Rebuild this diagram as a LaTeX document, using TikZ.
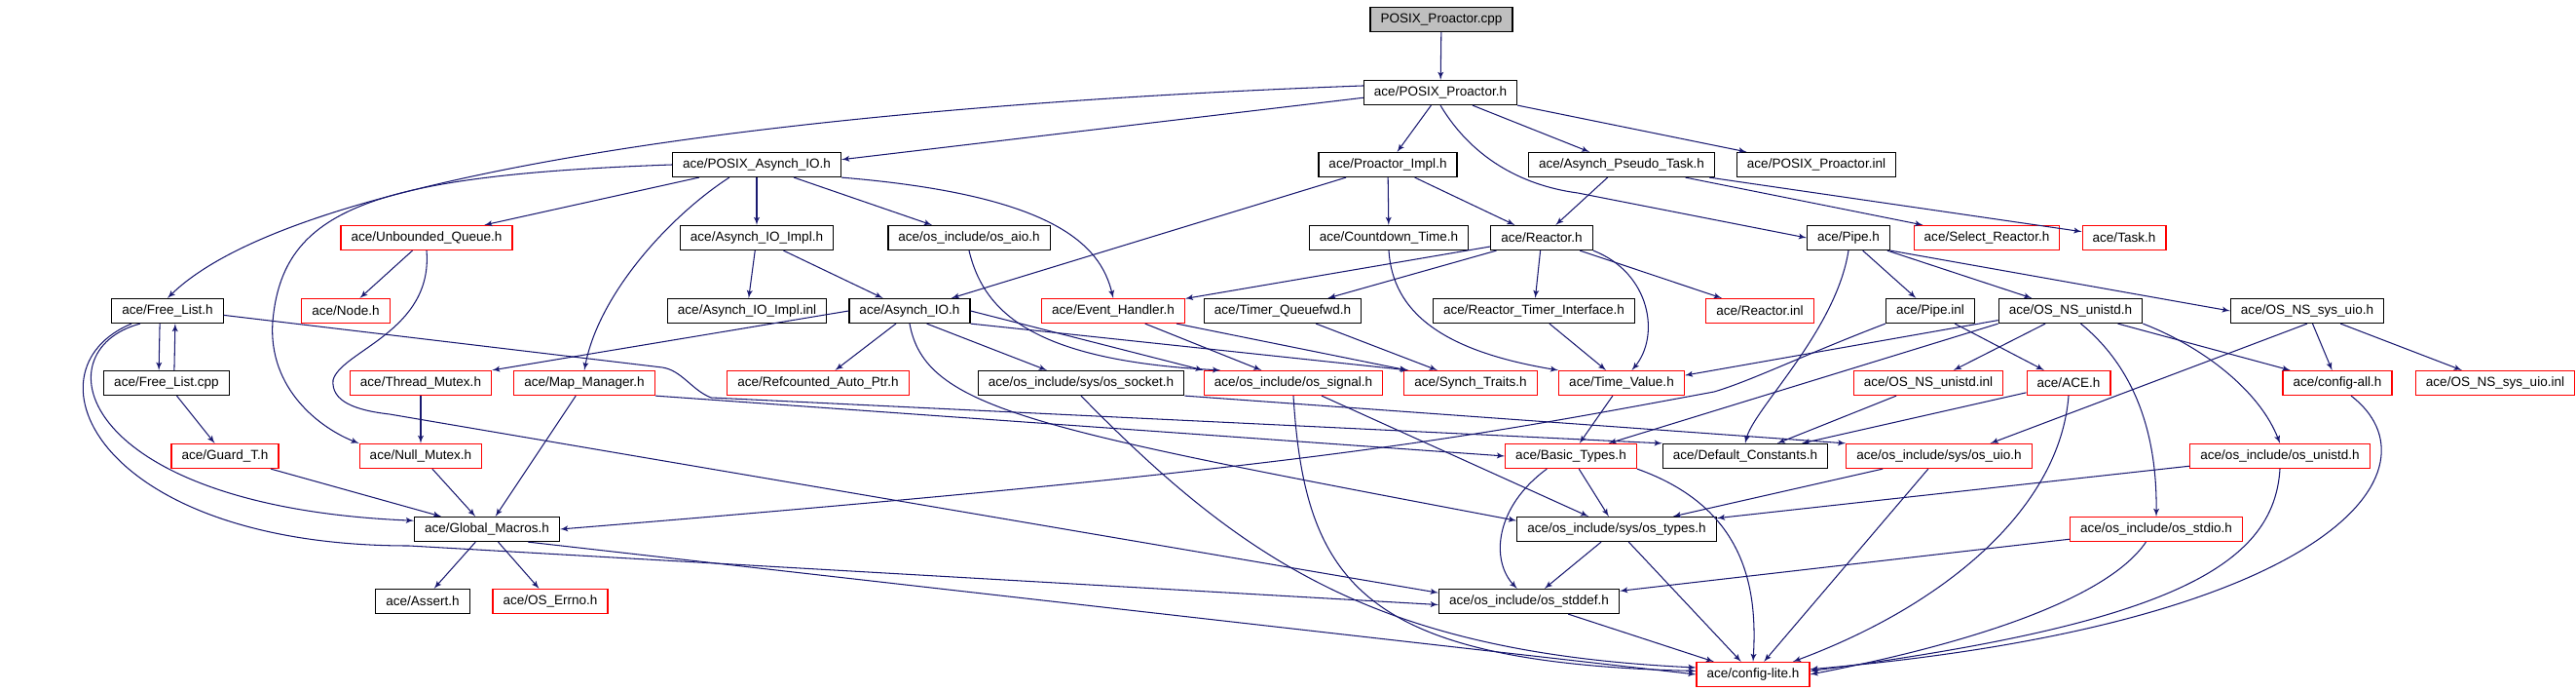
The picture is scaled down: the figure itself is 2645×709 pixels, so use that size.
\documentclass[tikz,border=0pt]{standalone}
\usepackage{fontspec}
\setmainfont{Liberation Sans}
\usepackage{tikz}
\usetikzlibrary{arrows}
\definecolor{edgecol}{HTML}{191970}
\definecolor{rootfill}{HTML}{BFBFBF}

\begin{document}
\begin{tikzpicture}[x=0.02cm,y=-0.02cm,->,>=latex',semithick,color=edgecol,
    incl/.style={rectangle,draw=black,line width=0.7pt,fill=white,text=black,
                 minimum height=0.5cm,inner xsep=6pt,inner ysep=0pt,
                 font=\fontsize{7.7}{9}\selectfont},
    incltrunc/.style={incl,draw=red},
    srcfile/.style={incl,fill=rootfill}]
		\useasboundingbox (0,0) rectangle (2645,709);

		\node[srcfile]   (cpp)      at (1480,20)  {POSIX\_Proactor.cpp};
		\node[incl]      (pph)      at (1479,95)  {ace/POSIX\_Proactor.h};
		\node[incl]      (pasio)    at (777,169)  {ace/POSIX\_Asynch\_IO.h};
		\node[incl]      (pimpl)    at (1425,169) {ace/Proactor\_Impl.h};
		\node[incl]      (apt)      at (1665,169) {ace/Asynch\_Pseudo\_Task.h};
		\node[incl]      (ppinl)    at (1865,169) {ace/POSIX\_Proactor.inl};
		\node[incltrunc] (uq)       at (438,244)  {ace/Unbounded\_Queue.h};
		\node[incl]      (aioimpl)  at (777,244)  {ace/Asynch\_IO\_Impl.h};
		\node[incl]      (osaio)    at (995,244)  {ace/os\_include/os\_aio.h};
		\node[incl]      (cdt)      at (1426,244) {ace/Countdown\_Time.h};
		\node[incl]      (reactor)  at (1583,244) {ace/Reactor.h};
		\node[incl]      (pipeh)    at (1898,244) {ace/Pipe.h};
		\node[incltrunc] (selr)     at (2040,244) {ace/Select\_Reactor.h};
		\node[incltrunc] (task)     at (2181,244) {ace/Task.h};
		\node[incl]      (flh)      at (172,319)  {ace/Free\_List.h};
		\node[incltrunc] (nodeh)    at (355,319)  {ace/Node.h};
		\node[incl]      (aioinl)   at (767,319)  {ace/Asynch\_IO\_Impl.inl};
		\node[incl]      (asio)     at (934,319)  {ace/Asynch\_IO.h};
		\node[incltrunc] (evh)      at (1143,319) {ace/Event\_Handler.h};
		\node[incl]      (tqf)      at (1317,319) {ace/Timer\_Queuefwd.h};
		\node[incl]      (rti)      at (1575,319) {ace/Reactor\_Timer\_Interface.h};
		\node[incltrunc] (rinl)     at (1807,319) {ace/Reactor.inl};
		\node[incl]      (pipeinl)  at (1982,319) {ace/Pipe.inl};
		\node[incl]      (nsu)      at (2126,319) {ace/OS\_NS\_unistd.h};
		\node[incl]      (nsuio)    at (2369,319) {ace/OS\_NS\_sys\_uio.h};
		\node[incl]      (flcpp)    at (171,393)  {ace/Free\_List.cpp};
		\node[incltrunc] (thm)      at (432,393)  {ace/Thread\_Mutex.h};
		\node[incltrunc] (mapm)     at (600,393)  {ace/Map\_Manager.h};
		\node[incltrunc] (rap)      at (840,393)  {ace/Refcounted\_Auto\_Ptr.h};
		\node[incl]      (ossock)   at (1110,393) {ace/os\_include/sys/os\_socket.h};
		\node[incltrunc] (ossig)    at (1328,393) {ace/os\_include/os\_signal.h};
		\node[incltrunc] (synt)     at (1510,393) {ace/Synch\_Traits.h};
		\node[incltrunc] (tv)       at (1665,393) {ace/Time\_Value.h};
		\node[incltrunc] (nsuinl)   at (1980,393) {ace/OS\_NS\_unistd.inl};
		\node[incltrunc] (ace)      at (2124,393) {ace/ACE.h};
		\node[incltrunc] (cfgall)   at (2400,393) {ace/config-all.h};
		\node[incltrunc] (nsuioinl) at (2562,393) {ace/OS\_NS\_sys\_uio.inl};
		\node[incltrunc] (guard)    at (231,468)  {ace/Guard\_T.h};
		\node[incltrunc] (nullm)    at (432,468)  {ace/Null\_Mutex.h};
		\node[incltrunc] (bt)       at (1613,468) {ace/Basic\_Types.h};
		\node[incl]      (defc)     at (1792,468) {ace/Default\_Constants.h};
		\node[incltrunc] (osuio)    at (1991,468) {ace/os\_include/sys/os\_uio.h};
		\node[incltrunc] (osunistd) at (2341,468) {ace/os\_include/os\_unistd.h};
		\node[incl]      (gm)       at (500,543)  {ace/Global\_Macros.h};
		\node[incl]      (ostypes)  at (1660,543) {ace/os\_include/sys/os\_types.h};
		\node[incltrunc] (osstdio)  at (2214,543) {ace/os\_include/os\_stdio.h};
		\node[incl]      (assert)   at (434,617)  {ace/Assert.h};
		\node[incltrunc] (oserrno)  at (565,617)  {ace/OS\_Errno.h};
		\node[incl]      (osstddef) at (1570,617) {ace/os\_include/os\_stddef.h};
		\node[incltrunc] (cfglite)  at (1800,692) {ace/config-lite.h};

		\path (cpp)   edge                 (pph)
		      (pph)   edge                 (pimpl)
		              edge                 (apt)
		      (pph.south east)       edge  ([xshift=6pt]ppinl.north west)
		      ([yshift=-3pt]pph.west) edge ([yshift=3pt]pasio.east);
		\draw ([yshift=4pt]pph.west) .. controls (800,110) and (300,180) .. (flh.north);
		\draw (pph.south) .. controls (1510,160) and (1560,190) .. (1620,198) -- (pipeh.west);

		\path (pasio) edge                 (uq)
		              edge                 (aioimpl)
		              edge                 (osaio)
		      (pimpl) edge                 (cdt)
		              edge                 (reactor)
		              edge                 (asio)
		      (apt)   edge                 (reactor)
		              edge                 (selr)
		              edge                 (task);
		\draw (pasio.west) .. controls (380,180) and (290,215) .. (280,330)
		      .. controls (275,400) and (330,440) .. (nullm.north west);
		\draw ([xshift=-16pt]pasio.south) .. controls (690,220) and (615,300) .. (mapm.north);
		\draw (pasio.south east) .. controls (1080,200) and (1130,250) .. (evh.north);

		\path (uq)      edge               (nodeh)
		      (aioimpl) edge               (aioinl)
		                edge               (asio)
		      (reactor) edge               (evh)
		                edge               (tqf)
		                edge               (rti)
		                edge               (rinl)
		      (pipeh)   edge               (pipeinl)
		                edge               (nsu)
		      (pipeh.south east) edge      (nsuio.west);
		\draw (uq.south) .. controls (445,340) and (350,360) .. (342,390)
		      .. controls (340,412) and (365,421) .. (400,425) -- ([yshift=5pt]osstddef.west);
		\draw (osaio.south) .. controls (1010,320) and (1060,370) .. ([xshift=10pt]ossig.north west);
		\draw (reactor.south east) .. controls (1695,280) and (1705,345) .. ([xshift=6pt]tv.north);
		\draw (cdt.south) .. controls (1430,320) and (1480,360) .. (tv.north west);
		\draw (pipeh.south) .. controls (1885,340) and (1800,420) .. (defc.north);

		\path ([xshift=-4.5pt]flh.south)  edge ([xshift=-4.5pt]flcpp.north)
		      ([xshift=4.5pt]flcpp.north) edge ([xshift=4.5pt]flh.south);
		\draw ([xshift=-16pt]flh.south) .. controls (40,360) and (80,520) .. ([yshift=5pt]gm.west);
		\draw ([xshift=-21pt]flh.south) .. controls (20,380) and (100,560) .. (420,560)
		      -- ([yshift=-2pt]osstddef.west);
		\draw ([yshift=-2.5pt]flh.east) -- (680,377) .. controls (700,380) and (710,400) .. (730,408)
		      -- (defc.north west);

		\path (asio.west)                 edge (thm.north east)
		      ([xshift=-8pt]asio.south)   edge ([xshift=10pt]rap.north)
		      ([xshift=10pt]asio.south)   edge ([xshift=-20pt]ossock.north)
		      (asio.east)                 edge (ossig.north west)
		      (asio.south east)           edge ([xshift=3pt]synt.north west)
		      (evh)                       edge (ossig)
		                                  edge (synt)
		      (tqf)                       edge (synt)
		      (rti)                       edge (tv)
		      (nsu)                       edge (nsuinl)
		                                  edge (cfgall)
		      ([yshift=2pt]nsu.south west) edge ([yshift=-3pt]tv.north east)
		      (nsu.south west)            edge ([xshift=22pt]bt.north)
		      (nsuio.south)               edge ([xshift=30pt]osuio.north)
		      (nsuio)                     edge (cfgall)
		                                  edge (nsuioinl)
		      (pipeinl)                   edge (ace);
		\draw (asio.south) .. controls (950,420) and (1060,440) .. ([yshift=5pt]ostypes.west);
		\draw (nsu.south east) .. controls (2260,355) and (2320,400) .. (osunistd.north);
		\draw ([xshift=6pt]nsu.south) .. controls (2195,380) and (2215,450) .. (osstdio.north);
		\draw (pipeinl.south west) .. controls (1850,365) and (1800,390) .. (1760,402)
		      .. controls (1500,450) and (1350,480) .. (gm.east);

		\path (flcpp)   edge               (guard)
		      (guard)   edge               (gm)
		      (thm)     edge               (nullm)
		      (nullm)   edge               (gm)
		      (mapm)    edge               (gm)
		      (mapm.south east) edge       (bt.west)
		      (ossock.south east) edge     (osuio.north west)
		      (ossig)   edge               (ostypes)
		      (tv)      edge               ([xshift=5pt]bt.north)
		      (ace)     edge               (defc)
		      (nsuinl)  edge               (defc)
		      (bt)      edge               (ostypes)
		      (osuio)   edge               (ostypes)
		                edge               (cfglite)
		      (osunistd) edge              (ostypes)
		      (osstdio) edge               (osstddef)
		      (gm)      edge               (assert)
		                edge               (oserrno)
		      ([xshift=24pt]gm.south) edge (cfglite.west)
		      (ostypes) edge               (osstddef)
		                edge               (cfglite)
		      (osstddef) edge              (cfglite);
		\draw (ossig.south) .. controls (1340,600) and (1400,680) .. ([yshift=2pt]cfglite.west);
		\draw (ossock.south) .. controls (1280,580) and (1420,670) .. ([yshift=4pt]cfglite.west);
		\draw (bt.208) .. controls (1535,520) and (1530,575) .. ([xshift=-7pt]osstddef.north);
		\draw (bt.south east) .. controls (1790,520) and (1805,600) .. (cfglite.north);
		\draw (ace.south) .. controls (2115,520) and (2000,620) .. ([xshift=-10pt]cfglite.north east);
		\draw ([xshift=-6pt]osstdio.south) .. controls (2160,620) and (2000,665) .. (cfglite.east);
		\draw (osunistd.south) .. controls (2335,580) and (2230,640) .. ([yshift=2pt]cfglite.east);
		\draw ([xshift=8pt]cfgall.south) .. controls (2510,480) and (2400,640) .. ([yshift=3pt]cfglite.east);
		\end{tikzpicture}
\end{document}
